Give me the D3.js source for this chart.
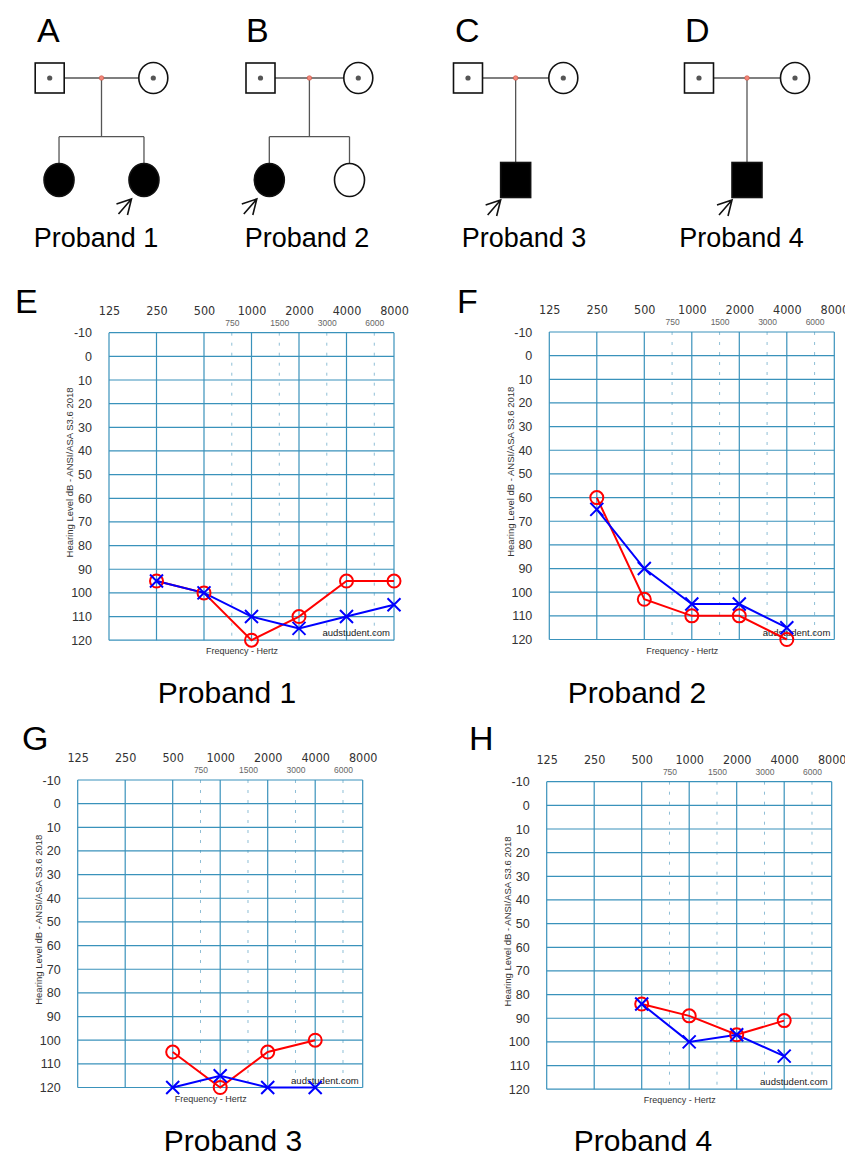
<!DOCTYPE html>
<html>
<head>
<meta charset="utf-8">
<script src="https://cdn.jsdelivr.net/npm/d3@7"></script>
<style>
  body { margin: 0; background: #fff; }
  svg { display: block; }
  text { font-family: "Liberation Sans", Arial, sans-serif; }
</style>
</head>
<body>
<div id="chart"></div>
<script>
// ---- data ----
const freqMain = [125, 250, 500, 1000, 2000, 4000, 8000];
const freqMid = [750, 1500, 3000, 6000];
const dbTicks = [-10, 0, 10, 20, 30, 40, 50, 60, 70, 80, 90, 100, 110, 120];

const p1Freq = [250, 500, 1000, 2000, 4000, 8000];
const p1Right = [95, 100, 120, 110, 95, 95];
const p1Left = [95, 100, 110, 115, 110, 105];

const p2Freq = [250, 500, 1000, 2000, 4000];
const p2Right = [60, 103, 110, 110, 120];
const p2Left = [65, 90, 105, 105, 115];

const p3Freq = [500, 1000, 2000, 4000];
const p3Right = [105, 120, 105, 100];
const p3Left = [120, 115, 120, 120];

const p4Freq = [500, 1000, 2000, 4000];
const p4Right = [84, 89, 97, 91];
const p4Left = [84, 100, 97, 106];

const pedLetters = ["A", "B", "C", "D"];
const pedNames = ["Proband 1", "Proband 2", "Proband 3", "Proband 4"];
// children of each family: sex, affected, proband
const pedChildren = [
  [{ sex: "F", affected: true }, { sex: "F", affected: true, proband: true }],
  [{ sex: "F", affected: true, proband: true }, { sex: "F", affected: false }],
  [{ sex: "M", affected: true, proband: true }],
  [{ sex: "M", affected: true, proband: true }]
];

// ---- svg ----
const W = 845, H = 1156;
const svg = d3.select("#chart")
  .append("svg")
  .attr("width", W)
  .attr("height", H);

// ---- pedigrees ----
const pedLayout = [
  { father: 49.7, mother: 153.3, letterX: 37, labelX: 96 },
  { father: 260.5, mother: 358.3, letterX: 246, labelX: 307 },
  { father: 468, mother: 563.3, letterX: 455, labelX: 524 },
  { father: 699, mother: 795, letterX: 685, labelX: 741.5 }
];
const parentY = 78, sibY = 136.7, childY = 180;
const lineCol = "#555";

pedLayout.forEach((p, i) => {
  const g = svg.append("g");
  const px = d3.scaleLinear().domain([0, 1]).range([p.father, p.mother]);
  const kids = pedChildren[i];
  const kidPos = kids.length === 1 ? [0.5] : [0.09, 0.91];

  g.append("text")
    .attr("x", p.letterX).attr("y", 41.7)
    .style("font-size", "34px").attr("fill", "#000")
    .text(pedLetters[i]);

  // marriage line
  g.append("line")
    .attr("x1", px(0) + 14.5).attr("x2", px(1) - 15)
    .attr("y1", parentY).attr("y2", parentY)
    .attr("stroke", lineCol).attr("stroke-width", 1.3);

  // descent line
  const kidTop = kids.length === 1 ? childY - 17.5 : sibY;
  g.append("line")
    .attr("x1", px(0.5)).attr("x2", px(0.5))
    .attr("y1", parentY).attr("y2", kidTop)
    .attr("stroke", lineCol).attr("stroke-width", 1.3);

  if (kids.length > 1) {
    g.append("line")
      .attr("x1", px(kidPos[0])).attr("x2", px(kidPos[1]))
      .attr("y1", sibY).attr("y2", sibY)
      .attr("stroke", lineCol).attr("stroke-width", 1.3);
    kidPos.forEach(k => {
      g.append("line")
        .attr("x1", px(k)).attr("x2", px(k))
        .attr("y1", sibY).attr("y2", childY - 16.5)
        .attr("stroke", lineCol).attr("stroke-width", 1.3);
    });
  }

  // father (carrier)
  g.append("rect")
    .attr("x", px(0) - 14.5).attr("y", parentY - 15)
    .attr("width", 29).attr("height", 30)
    .attr("fill", "#fff").attr("stroke", "#111").attr("stroke-width", 1.6);
  g.append("circle").attr("cx", px(0)).attr("cy", parentY).attr("r", 2.6).attr("fill", "#555");

  // mother (carrier)
  g.append("ellipse")
    .attr("cx", px(1)).attr("cy", parentY)
    .attr("rx", 14.5).attr("ry", 15.5)
    .attr("fill", "#fff").attr("stroke", "#111").attr("stroke-width", 1.6);
  g.append("circle").attr("cx", px(1)).attr("cy", parentY).attr("r", 2.6).attr("fill", "#555");

  // red marriage dot
  g.append("circle")
    .attr("cx", px(0.5)).attr("cy", parentY).attr("r", 2.3)
    .attr("fill", "#f4877a").attr("stroke", "#c9503f").attr("stroke-width", 0.6);

  // children
  kids.forEach((c, j) => {
    const cx = px(kidPos[j]);
    let tipX, tipY;
    if (c.sex === "F") {
      g.append("ellipse")
        .attr("cx", cx).attr("cy", childY)
        .attr("rx", 15).attr("ry", 16.5)
        .attr("fill", c.affected ? "#000" : "#fff")
        .attr("stroke", "#111").attr("stroke-width", 1.6);
      tipX = cx - 12.5; tipY = childY + 19;
    } else {
      g.append("rect")
        .attr("x", cx - 15).attr("y", childY - 17.5)
        .attr("width", 30).attr("height", 35)
        .attr("fill", c.affected ? "#000" : "#fff")
        .attr("stroke", "#111").attr("stroke-width", 1.6);
      tipX = cx - 15; tipY = childY + 20;
    }
    if (c.proband) {
      g.append("path")
        .attr("d", `M${tipX - 13},${tipY + 15}L${tipX},${tipY}M${tipX - 15},${tipY + 5}L${tipX},${tipY}L${tipX - 4},${tipY + 16}`)
        .attr("fill", "none").attr("stroke", "#111").attr("stroke-width", 1.6);
    }
  });

  g.append("text")
    .attr("x", p.labelX).attr("y", 246.5)
    .attr("text-anchor", "middle")
    .style("font-size", "27px").attr("fill", "#000")
    .text(pedNames[i]);
});

// ---- audiograms ----
const gridW = 285, gridH = 307.5;
const x = d3.scaleLog().base(2).domain([125, 8000]).range([0, gridW]);
const y = d3.scaleLinear().domain([-10, 120]).range([0, gridH]);
const gridCol = "#3a92bb";

const panels = [
  { letter: "E", name: "Proband 1", left: 109, top: 332.7, letterX: 15, letterY: 313, labelX: 227, labelY: 703,
    freq: p1Freq, right: p1Right, leftEar: p1Left },
  { letter: "F", name: "Proband 2", left: 549.3, top: 332, letterX: 457, letterY: 313, labelX: 637, labelY: 703,
    freq: p2Freq, right: p2Right, leftEar: p2Left },
  { letter: "G", name: "Proband 3", left: 77.7, top: 780, letterX: 22, letterY: 750, labelX: 233, labelY: 1151,
    freq: p3Freq, right: p3Right, leftEar: p3Left },
  { letter: "H", name: "Proband 4", left: 546.7, top: 781.7, letterX: 469, letterY: 750, labelX: 643, labelY: 1151,
    freq: p4Freq, right: p4Right, leftEar: p4Left }
];

const line = d3.line().x(d => x(d.f)).y(d => y(d.v));

panels.forEach(p => {
  svg.append("text")
    .attr("x", p.letterX).attr("y", p.letterY)
    .style("font-size", "34px").attr("fill", "#000")
    .text(p.letter);

  svg.append("text")
    .attr("x", p.labelX).attr("y", p.labelY)
    .attr("text-anchor", "middle")
    .style("font-size", "30px").attr("fill", "#000")
    .text(p.name);

  const g = svg.append("g").attr("transform", `translate(${p.left},${p.top})`);

  // dashed inter-octave lines
  g.selectAll(".mid").data(freqMid).join("line")
    .attr("x1", d => x(d)).attr("x2", d => x(d))
    .attr("y1", 0).attr("y2", gridH)
    .attr("stroke", "#8fbfd6").attr("stroke-width", 1)
    .attr("stroke-dasharray", "3,7");

  // horizontal grid
  g.selectAll(".hgrid").data(dbTicks).join("line")
    .attr("x1", 0).attr("x2", gridW)
    .attr("y1", d => y(d)).attr("y2", d => y(d))
    .attr("stroke", gridCol).attr("stroke-width", 1.2);

  // vertical grid
  g.selectAll(".vgrid").data(freqMain).join("line")
    .attr("x1", d => x(d)).attr("x2", d => x(d))
    .attr("y1", 0).attr("y2", gridH)
    .attr("stroke", gridCol).attr("stroke-width", 1.2);

  // top frequency labels
  g.append("g")
    .call(d3.axisTop(x).tickValues(freqMain).tickFormat(d => String(d)).tickSize(0).tickPadding(18))
    .call(a => a.select(".domain").remove())
    .selectAll("text")
    .attr("fill", "#333")
    .style("font-family", "'Liberation Sans Narrow', 'DejaVu Sans Condensed', sans-serif")
    .style("font-size", "12.5px");

  g.append("g")
    .call(d3.axisTop(x).tickValues(freqMid).tickFormat(d => String(d)).tickSize(0).tickPadding(7))
    .call(a => a.select(".domain").remove())
    .selectAll("text")
    .attr("fill", "#666")
    .style("font-size", "8.5px");

  // dB labels
  g.append("g")
    .call(d3.axisLeft(y).tickValues(dbTicks).tickFormat(d => String(d)).tickSize(0).tickPadding(17))
    .call(a => a.select(".domain").remove())
    .selectAll("text")
    .attr("fill", "#333")
    .style("font-size", "12.5px");

  g.append("text")
    .attr("transform", `translate(-39,${gridH / 2 - 14}) rotate(-90)`)
    .attr("text-anchor", "middle")
    .attr("dy", "0.35em")
    .style("font-size", "9.5px").attr("fill", "#333")
    .text("Hearing Level dB - ANSI/ASA S3.6 2018");

  g.append("text")
    .attr("x", gridW / 2 - 9.5).attr("y", gridH + 14)
    .attr("text-anchor", "middle")
    .style("font-size", "9px").attr("fill", "#333")
    .text("Frequency - Hertz");

  g.append("text")
    .attr("x", gridW - 4).attr("y", gridH - 4)
    .attr("text-anchor", "end")
    .style("font-size", "9.5px").attr("fill", "#222")
    .text("audstudent.com");

  const rightPts = p.freq.map((f, i) => ({ f, v: p.right[i] }));
  const leftPts = p.freq.map((f, i) => ({ f, v: p.leftEar[i] }));

  g.append("path").datum(rightPts)
    .attr("d", line).attr("fill", "none")
    .attr("stroke", "#ff0000").attr("stroke-width", 2);
  g.append("path").datum(leftPts)
    .attr("d", line).attr("fill", "none")
    .attr("stroke", "#0000ff").attr("stroke-width", 2);

  g.selectAll(".o").data(rightPts).join("circle")
    .attr("cx", d => x(d.f)).attr("cy", d => y(d.v)).attr("r", 6.5)
    .attr("fill", "none").attr("stroke", "#ff0000").attr("stroke-width", 2);

  const s = 6.5;
  g.selectAll(".x").data(leftPts).join("path")
    .attr("d", d => {
      const cx = x(d.f), cy = y(d.v);
      return `M${cx - s},${cy - s}L${cx + s},${cy + s}M${cx - s},${cy + s}L${cx + s},${cy - s}`;
    })
    .attr("fill", "none").attr("stroke", "#0000ff").attr("stroke-width", 2);
});
</script>
</body>
</html>
